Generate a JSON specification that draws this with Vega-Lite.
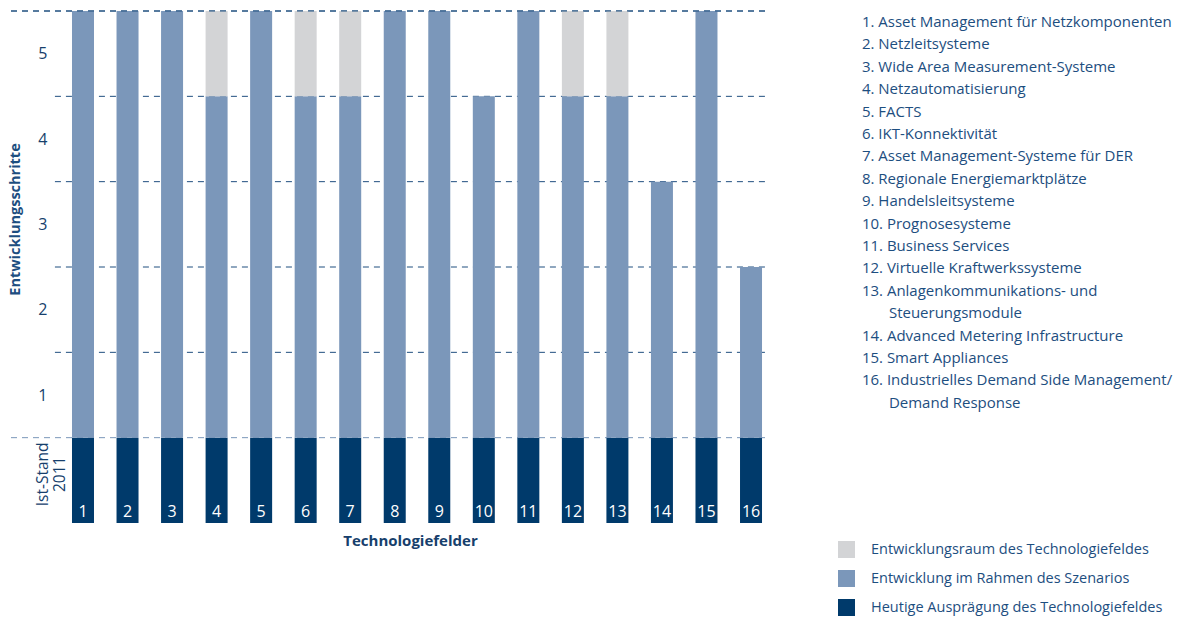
{
  "$schema": "https://vega.github.io/schema/vega-lite/v6.json",
  "autosize": "none",
  "padding": {"left": 10, "top": 11, "right": 429, "bottom": 99},
  "width": 755,
  "height": 512,
  "config": {"view": {"stroke": null}, "font": "Open Sans"},
  "datasets": {
    "bars": [
      {"feld": 1, "kategorie": "Heutige Ausprägung des Technologiefeldes", "von": 0, "bis": 1},
      {"feld": 1, "kategorie": "Entwicklung im Rahmen des Szenarios", "von": 1, "bis": 6},
      {"feld": 2, "kategorie": "Heutige Ausprägung des Technologiefeldes", "von": 0, "bis": 1},
      {"feld": 2, "kategorie": "Entwicklung im Rahmen des Szenarios", "von": 1, "bis": 6},
      {"feld": 3, "kategorie": "Heutige Ausprägung des Technologiefeldes", "von": 0, "bis": 1},
      {"feld": 3, "kategorie": "Entwicklung im Rahmen des Szenarios", "von": 1, "bis": 6},
      {"feld": 4, "kategorie": "Heutige Ausprägung des Technologiefeldes", "von": 0, "bis": 1},
      {"feld": 4, "kategorie": "Entwicklung im Rahmen des Szenarios", "von": 1, "bis": 5},
      {"feld": 4, "kategorie": "Entwicklungsraum des Technologiefeldes", "von": 5, "bis": 6},
      {"feld": 5, "kategorie": "Heutige Ausprägung des Technologiefeldes", "von": 0, "bis": 1},
      {"feld": 5, "kategorie": "Entwicklung im Rahmen des Szenarios", "von": 1, "bis": 6},
      {"feld": 6, "kategorie": "Heutige Ausprägung des Technologiefeldes", "von": 0, "bis": 1},
      {"feld": 6, "kategorie": "Entwicklung im Rahmen des Szenarios", "von": 1, "bis": 5},
      {"feld": 6, "kategorie": "Entwicklungsraum des Technologiefeldes", "von": 5, "bis": 6},
      {"feld": 7, "kategorie": "Heutige Ausprägung des Technologiefeldes", "von": 0, "bis": 1},
      {"feld": 7, "kategorie": "Entwicklung im Rahmen des Szenarios", "von": 1, "bis": 5},
      {"feld": 7, "kategorie": "Entwicklungsraum des Technologiefeldes", "von": 5, "bis": 6},
      {"feld": 8, "kategorie": "Heutige Ausprägung des Technologiefeldes", "von": 0, "bis": 1},
      {"feld": 8, "kategorie": "Entwicklung im Rahmen des Szenarios", "von": 1, "bis": 6},
      {"feld": 9, "kategorie": "Heutige Ausprägung des Technologiefeldes", "von": 0, "bis": 1},
      {"feld": 9, "kategorie": "Entwicklung im Rahmen des Szenarios", "von": 1, "bis": 6},
      {"feld": 10, "kategorie": "Heutige Ausprägung des Technologiefeldes", "von": 0, "bis": 1},
      {"feld": 10, "kategorie": "Entwicklung im Rahmen des Szenarios", "von": 1, "bis": 5},
      {"feld": 11, "kategorie": "Heutige Ausprägung des Technologiefeldes", "von": 0, "bis": 1},
      {"feld": 11, "kategorie": "Entwicklung im Rahmen des Szenarios", "von": 1, "bis": 6},
      {"feld": 12, "kategorie": "Heutige Ausprägung des Technologiefeldes", "von": 0, "bis": 1},
      {"feld": 12, "kategorie": "Entwicklung im Rahmen des Szenarios", "von": 1, "bis": 5},
      {"feld": 12, "kategorie": "Entwicklungsraum des Technologiefeldes", "von": 5, "bis": 6},
      {"feld": 13, "kategorie": "Heutige Ausprägung des Technologiefeldes", "von": 0, "bis": 1},
      {"feld": 13, "kategorie": "Entwicklung im Rahmen des Szenarios", "von": 1, "bis": 5},
      {"feld": 13, "kategorie": "Entwicklungsraum des Technologiefeldes", "von": 5, "bis": 6},
      {"feld": 14, "kategorie": "Heutige Ausprägung des Technologiefeldes", "von": 0, "bis": 1},
      {"feld": 14, "kategorie": "Entwicklung im Rahmen des Szenarios", "von": 1, "bis": 4},
      {"feld": 15, "kategorie": "Heutige Ausprägung des Technologiefeldes", "von": 0, "bis": 1},
      {"feld": 15, "kategorie": "Entwicklung im Rahmen des Szenarios", "von": 1, "bis": 6},
      {"feld": 16, "kategorie": "Heutige Ausprägung des Technologiefeldes", "von": 0, "bis": 1},
      {"feld": 16, "kategorie": "Entwicklung im Rahmen des Szenarios", "von": 1, "bis": 3}
    ],
    "liste": [
      {"zeile": 1, "text": "1. Asset Management für Netzkomponenten", "fortsetzung": false},
      {"zeile": 2, "text": "2. Netzleitsysteme", "fortsetzung": false},
      {"zeile": 3, "text": "3. Wide Area Measurement-Systeme", "fortsetzung": false},
      {"zeile": 4, "text": "4. Netzautomatisierung", "fortsetzung": false},
      {"zeile": 5, "text": "5. FACTS", "fortsetzung": false},
      {"zeile": 6, "text": "6. IKT-Konnektivität", "fortsetzung": false},
      {"zeile": 7, "text": "7. Asset Management-Systeme für DER", "fortsetzung": false},
      {"zeile": 8, "text": "8. Regionale Energiemarktplätze", "fortsetzung": false},
      {"zeile": 9, "text": "9. Handelsleitsysteme", "fortsetzung": false},
      {"zeile": 10, "text": "10. Prognosesysteme", "fortsetzung": false},
      {"zeile": 11, "text": "11. Business Services", "fortsetzung": false},
      {"zeile": 12, "text": "12. Virtuelle Kraftwerkssysteme", "fortsetzung": false},
      {"zeile": 13, "text": "13. Anlagenkommunikations- und", "fortsetzung": false},
      {"zeile": 14, "text": "Steuerungsmodule", "fortsetzung": true},
      {"zeile": 15, "text": "14. Advanced Metering Infrastructure", "fortsetzung": false},
      {"zeile": 16, "text": "15. Smart Appliances", "fortsetzung": false},
      {"zeile": 17, "text": "16. Industrielles Demand Side Management/", "fortsetzung": false},
      {"zeile": 18, "text": "Demand Response", "fortsetzung": true}
    ],
    "gitter": [
      {"stufe": 1, "art": "basis"},
      {"stufe": 2, "art": "mitte"},
      {"stufe": 3, "art": "mitte"},
      {"stufe": 4, "art": "mitte"},
      {"stufe": 5, "art": "mitte"},
      {"stufe": 6, "art": "oben"}
    ]
  },
  "layer": [
    {
      "layer": [
        {
          "data": {"name": "gitter"},
          "transform": [{"filter": "datum.art != 'mitte'"}],
          "mark": {"type": "rule", "strokeDash": [6, 5], "strokeWidth": 1},
          "encoding": {
            "y": {"field": "stufe", "type": "quantitative", "scale": {"domain": [0, 6], "nice": false},
              "axis": {"values": [1.5, 2.5, 3.5, 4.5, 5.5], "labelExpr": "toString(datum.value - 0.5)", "offset": -40, "domain": false, "ticks": false, "grid": false, "labelPadding": 3, "labelFontSize": 16, "labelColor": "#173f6c", "title": "Entwicklungsschritte", "titleFontSize": 14.5, "titleFontWeight": "bold", "titleColor": "#1d4e80", "titleX": -35, "titleY": 208, "titleBaseline": "middle"}},
            "color": {"condition": {"test": "datum.art == 'basis'", "value": "#7b97ba"}, "value": "#1f4e7f"}
          }
        },
        {
          "data": {"name": "gitter"},
          "transform": [{"filter": "datum.art == 'mitte'"}],
          "mark": {"type": "rule", "strokeDash": [6, 5], "strokeWidth": 1, "color": "#1f4e7f"},
          "encoding": {
            "x": {"datum": 0.37},
            "x2": {"datum": 16.314},
            "y": {"field": "stufe", "type": "quantitative"}
          }
        },
        {
          "data": {"name": "bars"},
          "mark": {"type": "bar", "width": 22},
          "encoding": {
            "x": {"field": "feld", "type": "quantitative", "scale": {"domain": [-0.639, 16.314], "nice": false, "zero": false, "padding": 0},
              "axis": {"labels": false, "ticks": false, "domain": false, "grid": false, "title": "Technologiefelder", "titleFontSize": 15, "titleFontWeight": "bold", "titleColor": "#173f6c", "titleX": 400, "titleY": 10}},
            "y": {"field": "von", "type": "quantitative"},
            "y2": {"field": "bis"},
            "color": {"field": "kategorie", "type": "nominal",
              "scale": {"domain": ["Entwicklungsraum des Technologiefeldes", "Entwicklung im Rahmen des Szenarios", "Heutige Ausprägung des Technologiefeldes"], "range": ["#d3d4d6", "#7b97ba", "#003a6b"]},
              "legend": {"orient": "none", "legendX": 828, "legendY": 530, "title": null, "symbolType": "square", "symbolSize": 289, "symbolStrokeWidth": 0, "symbolOpacity": 1, "labelFontSize": 14.5, "labelColor": "#1d4e80", "labelOffset": 16, "rowPadding": 12, "labelLimit": 400}}
          }
        },
        {
          "data": {"name": "gitter"},
          "transform": [{"filter": "datum.art == 'oben'"}],
          "mark": {"type": "rule", "strokeDash": [6, 5], "strokeWidth": 1, "color": "#1f4e7f"},
          "encoding": {
            "y": {"field": "stufe", "type": "quantitative"}
          }
        },
        {
          "data": {"name": "bars"},
          "transform": [{"filter": "datum.von == 0"}],
          "mark": {"type": "text", "baseline": "bottom", "align": "center", "fontSize": 16, "color": "white"},
          "encoding": {
            "x": {"field": "feld", "type": "quantitative"},
            "y": {"datum": 0.03},
            "text": {"field": "feld", "type": "nominal"}
          }
        },
        {
          "data": {"values": [{}]},
          "mark": {"type": "text", "text": ["Ist-Stand", "2011"], "angle": 270, "align": "center", "baseline": "middle", "fontSize": 15.5, "lineHeight": 17, "color": "#173f6c"},
          "encoding": {
            "x": {"datum": 0.1},
            "y": {"datum": 0.57}
          }
        }
      ]
    },
    {
      "layer": [
        {
          "data": {"name": "liste"},
          "transform": [{"filter": "!datum.fortsetzung"}],
          "mark": {"type": "text", "align": "left", "baseline": "middle", "fontSize": 15, "color": "#1d4e80"},
          "encoding": {
            "x": {"datum": 18.49},
            "y": {"field": "zeile", "type": "quantitative", "scale": {"domain": [0.509, 23.37], "reverse": true, "nice": false, "zero": false}, "axis": null},
            "text": {"field": "text", "type": "nominal"}
          }
        },
        {
          "data": {"name": "liste"},
          "transform": [{"filter": "datum.fortsetzung"}],
          "mark": {"type": "text", "align": "left", "baseline": "middle", "fontSize": 15, "color": "#1d4e80", "dx": 27},
          "encoding": {
            "x": {"datum": 18.49},
            "y": {"field": "zeile", "type": "quantitative"},
            "text": {"field": "text", "type": "nominal"}
          }
        }
      ]
    }
  ],
  "resolve": {"scale": {"y": "independent"}}
}
